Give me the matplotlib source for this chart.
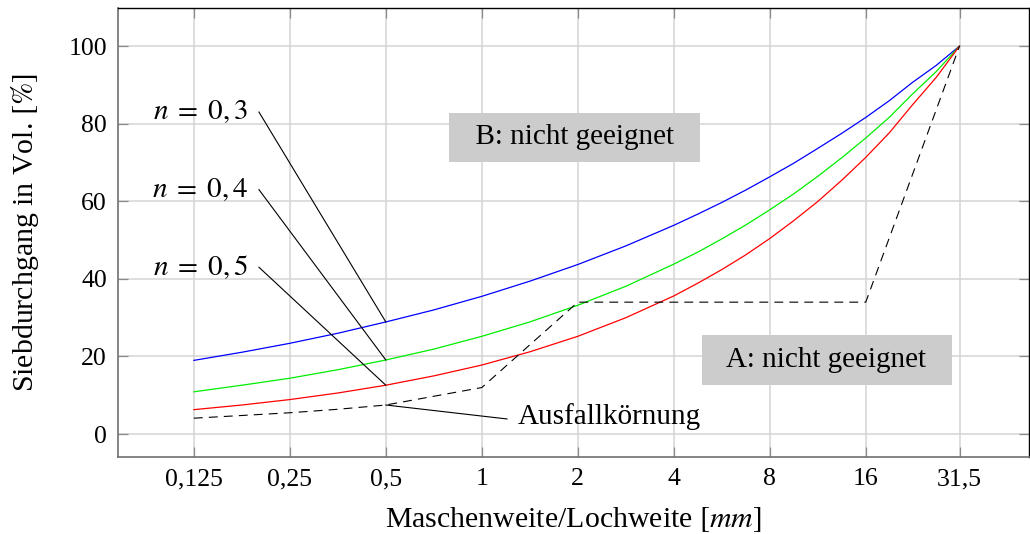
import numpy as np
import matplotlib
matplotlib.use('Agg')
from matplotlib import pyplot as plt

plt.rcParams['font.family'] = ['Liberation Serif', 'DejaVu Serif']
plt.rcParams['mathtext.fontset'] = 'stix'

# Siebweiten (mm), feinere Stufen fuer glatte Kurven
d = [0.125, 0.177, 0.25, 0.354, 0.5, 0.707, 1, 1.414, 2, 2.83, 4, 4.76, 5.66, 6.73, 8,
     9.51, 11.3, 13.45, 16, 18.95, 22.4, 26.6, 31.5]
n03 = [19.0, 21.1, 23.4, 26.0, 28.9, 32.0, 35.5, 39.4, 43.7, 48.5, 53.8, 56.7, 59.7, 62.9, 66.3,
       69.8, 73.6, 77.5, 81.6, 85.9, 90.6, 95.0, 100]
n04 = [10.9, 12.6, 14.4, 16.6, 19.1, 21.9, 25.2, 28.9, 33.2, 38.1, 43.8, 46.9, 50.3, 53.9, 57.8,
       61.9, 66.4, 71.2, 76.3, 81.6, 87.6, 93.4, 100]
n05 = [6.3, 7.5, 8.9, 10.6, 12.6, 15.0, 17.8, 21.2, 25.2, 30.0, 35.6, 38.9, 42.4, 46.2, 50.4,
       55.0, 59.9, 65.4, 71.3, 77.6, 84.8, 91.9, 100]

# Ausfallkoernung
d_ausfall = [0.125, 0.177, 0.25, 0.354, 0.5, 1, 2, 16, 31.5]
p_ausfall = [4.1, 4.8, 5.5, 6.4, 7.5, 12, 34, 34, 100]

ticks = [0.125, 0.25, 0.5, 1, 2, 4, 8, 16, 31.5]
tick_labels = ['0,125', '0,25', '0,5', '1', '2', '4', '8', '16', '31,5']

fig = plt.figure(figsize=(10.3, 5.34), dpi=100)
ax = fig.add_axes([0.1146, 0.1442, 0.8844, 0.8408])

ax.plot(d, n03, color='#0000ff', lw=0.9)
ax.plot(d, n04, color='#00ee00', lw=0.9)
ax.plot(d, n05, color='#ff0000', lw=0.9)
ax.plot(d_ausfall, p_ausfall, color='black', lw=0.8, dashes=(8, 5.5))

ax.set_xscale('log', base=2)
ax.set_xlim(0.0723, 52.0)
ax.set_ylim(-5.9, 109.8)
ax.set_xticks(ticks)
ax.set_xticklabels(tick_labels)
ax.minorticks_off()
ax.set_yticks([0, 20, 40, 60, 80, 100])

ax.grid(True, color='#d4d4d4', lw=1.1)
ax.set_axisbelow(True)
ax.tick_params(direction='in', length=7, width=0.9, color='#8a8a8a', labelsize=18.5,
               top=True, right=True, pad=8)
for s in ['left', 'bottom']:
    ax.spines[s].set_color('#707070')
    ax.spines[s].set_linewidth(1.2)
for s in ['top', 'right']:
    ax.spines[s].set_color('black')
    ax.spines[s].set_linewidth(1.0)

ax.set_xlabel(r'Maschenweite/Lochweite $[mm]$', fontsize=21.5, labelpad=11)
ax.set_ylabel(r'Siebdurchgang in Vol. $[\%]$', fontsize=21.5, labelpad=20)

# Beschriftung der Kurven
labels = [(r'$n\;=\;0,3$', 83, n03[4]), (r'$n\;=\;0,4$', 63, n04[4]), (r'$n\;=\;0,5$', 43, n05[4])]
for txt, y_txt, y_pt in labels:
    ax.plot([0.2, 0.5], [y_txt, y_pt], color='black', lw=0.8)
    ax.annotate(txt, xy=(0.2, y_txt), xytext=(-11, 0), textcoords='offset pixels',
                ha='right', va='center', fontsize=21)

ax.plot([0.5, 1.2], [p_ausfall[4], 3.9], color='black', lw=0.8)
ax.annotate('Ausfallkörnung', xy=(1.2, 3.9), xytext=(11, 2), textcoords='offset pixels',
            ha='left', va='center', fontsize=21)

box = dict(boxstyle='square,pad=0.4', fc='#cccccc', ec='none')
ax.text(1.95, 76.5, '  B: nicht geeignet  ', ha='center', va='center', fontsize=21, bbox=box)
ax.text(12.1, 19.1, '  A: nicht geeignet  ', ha='center', va='center', fontsize=21, bbox=box)

fig.savefig('out.png', dpi=100)
